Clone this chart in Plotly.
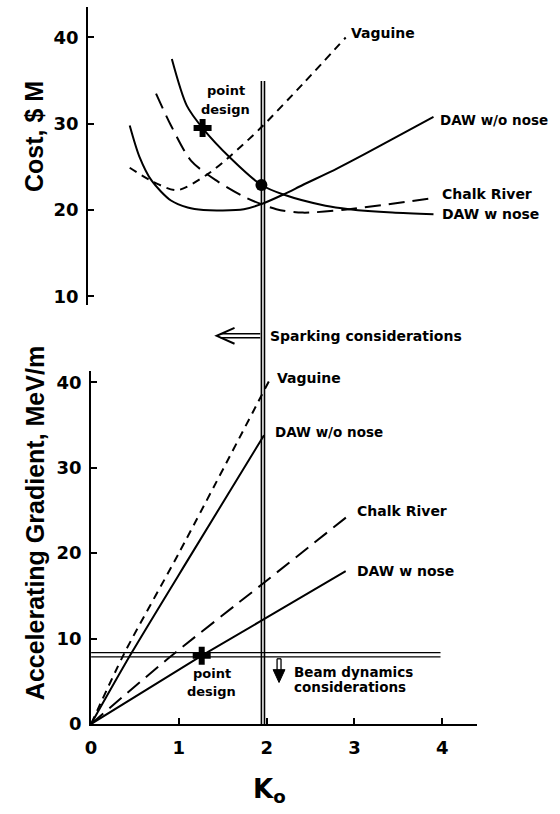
import plotly.graph_objects as go

W, H = 560, 814

# ---------------- data: cost panel (top) ----------------
cost_daw_wo_k = [0.44, 0.55, 0.69, 0.91, 1.10, 1.28, 1.50, 1.74, 1.93, 2.19, 2.41, 2.80, 3.12, 3.50, 3.90]
cost_daw_wo = [29.8, 26.2, 23.4, 21.1, 20.3, 20.0, 19.95, 20.1, 20.65, 21.8, 22.9, 24.8, 26.5, 28.6, 30.8]

cost_daw_w_k = [0.92, 1.09, 1.27, 1.59, 1.94, 2.19, 2.67, 2.94, 3.43, 3.90]
cost_daw_w = [37.5, 32.1, 29.5, 26.0, 22.9, 21.8, 20.5, 20.1, 19.7, 19.5]

cost_vag_k = [0.44, 0.72, 0.98, 1.32, 1.59, 1.93, 2.41, 2.90]
cost_vag = [24.9, 23.2, 22.3, 24.1, 26.3, 29.5, 34.6, 40.0]

cost_chalk_k = [0.74, 0.91, 1.14, 1.43, 1.77, 2.11, 2.41, 2.94, 3.90]
cost_chalk = [33.5, 29.8, 25.7, 23.4, 21.4, 20.1, 19.7, 20.1, 21.4]

cost_point_k, cost_point = [1.27], [29.5]
cost_opt_k, cost_opt = [1.94], [22.9]

# ---------------- data: gradient panel (bottom) ----------------
grad_vag_k = [0.0, 0.38, 1.0, 2.03]
grad_vag = [0.0, 8.3, 20.0, 40.2]

grad_daw_wo_k = [0.0, 0.46, 1.15, 1.97]
grad_daw_wo = [0.0, 8.3, 20.0, 33.8]

grad_chalk_k = [0.0, 0.87, 1.94, 2.92]
grad_chalk = [0.0, 7.6, 16.3, 24.3]

grad_daw_w_k = [0.0, 1.26, 1.94, 2.90]
grad_daw_w = [0.0, 8.0, 12.1, 17.9]

grad_point_k, grad_point = [1.26], [8.0]

sparking_k = [1.94, 1.975]          # vertical double line
beam_grad = [7.85, 8.35]            # horizontal double line
beam_k_end = 3.98

x_ticks = [0, 1, 2, 3, 4]
cost_ticks = [10, 20, 30, 40]
grad_ticks = [0, 10, 20, 30, 40]

# ---------------- helpers ----------------
def px(x):
    return x / W

def py(y):
    return (H - y) / H

FONT = "DejaVu Sans"

fig = go.Figure()

def add_line(xs, ys, dash, xa, ya, spline=True):
    fig.add_trace(go.Scatter(
        x=xs, y=ys, mode="lines", xaxis=xa, yaxis=ya,
        line=dict(color="black", width=2, dash=dash,
                  shape="spline" if spline else "linear", smoothing=0.8),
        showlegend=False, hoverinfo="skip"))

# top
add_line(cost_daw_wo_k, cost_daw_wo, "solid", "x2", "y2")
add_line(cost_daw_w_k, cost_daw_w, "solid", "x2", "y2")
add_line(cost_vag_k, cost_vag, "8px,6px", "x2", "y2")
add_line(cost_chalk_k, cost_chalk, "16px,8px", "x2", "y2")
fig.add_trace(go.Scatter(x=cost_point_k, y=cost_point, mode="markers", xaxis="x2", yaxis="y2",
                         marker=dict(symbol="cross", size=15, color="black"), showlegend=False))
fig.add_trace(go.Scatter(x=cost_opt_k, y=cost_opt, mode="markers", xaxis="x2", yaxis="y2",
                         marker=dict(symbol="circle", size=12, color="black"), showlegend=False))

# bottom
add_line(grad_vag_k, grad_vag, "8px,6px", "x", "y")
add_line(grad_daw_wo_k, grad_daw_wo, "solid", "x", "y")
add_line(grad_chalk_k, grad_chalk, "16px,8px", "x", "y")
add_line(grad_daw_w_k, grad_daw_w, "solid", "x", "y", spline=False)
fig.add_trace(go.Scatter(x=grad_point_k, y=grad_point, mode="markers", xaxis="x", yaxis="y",
                         marker=dict(symbol="cross", size=15, color="black"), showlegend=False))

shapes = []
for k in sparking_k:
    shapes.append(dict(type="line", xref="x", yref="paper", x0=k, x1=k,
                       y0=py(733), y1=py(82), line=dict(color="black", width=1.6)))
for g in beam_grad:
    shapes.append(dict(type="line", xref="x", yref="y", x0=0, x1=beam_k_end, y0=g, y1=g,
                       line=dict(color="black", width=1.3)))

# sparking arrow (open, pointing left)
shapes += [
    dict(type="line", xref="paper", yref="paper", x0=px(217), x1=px(257), y0=py(338), y1=py(338),
         line=dict(color="black", width=1.5)),
    dict(type="line", xref="paper", yref="paper", x0=px(217), x1=px(257), y0=py(342), y1=py(342),
         line=dict(color="black", width=1.5)),
    dict(type="path", xref="paper", yref="paper",
         path=f"M {px(231)} {py(332)} L {px(213)} {py(340)} L {px(231)} {py(348)}",
         line=dict(color="black", width=2)),
]
# beam dynamics arrow (pointing down)
shapes += [
    dict(type="line", xref="paper", yref="paper", x0=px(274), x1=px(274), y0=py(667), y1=py(680),
         line=dict(color="black", width=1.3)),
    dict(type="line", xref="paper", yref="paper", x0=px(278), x1=px(278), y0=py(667), y1=py(680),
         line=dict(color="black", width=1.3)),
    dict(type="line", xref="paper", yref="paper", x0=px(274), x1=px(278), y0=py(667), y1=py(667),
         line=dict(color="black", width=1.3)),
    dict(type="path", xref="paper", yref="paper",
         path=f"M {px(270)} {py(678)} L {px(282)} {py(678)} L {px(276)} {py(691)} Z",
         fillcolor="black", line=dict(color="black", width=1)),
]

ann = []
def lab(text, x, y, xref, yref, anchor="left", size=14):
    ann.append(dict(text=text, x=x, y=y, xref=xref, yref=yref, xanchor=anchor, yanchor="middle",
                    showarrow=False, font=dict(family=FONT, size=size, color="black")))

# top labels
lab("<b>Vaguine</b>", 2.94, 40.57, "x2", "y2")
lab("<b>DAW w/o nose</b>", 3.955, 30.4, "x2", "y2", size=13.5)
lab("<b>Chalk River</b>", 3.97, 21.8, "x2", "y2")
lab("<b>DAW w nose</b>", 3.97, 19.5, "x2", "y2")
lab("<b>point</b>", px(222), py(92), "paper", "paper", anchor="center", size=13)
lab("<b>design</b>", px(222), py(111), "paper", "paper", anchor="center", size=13)
# bottom labels
lab("<b>Vaguine</b>", 2.095, 40.5, "x", "y")
lab("<b>DAW w/o nose</b>", 2.07, 34.2, "x", "y", size=13.5)
lab("<b>Chalk River</b>", 3.01, 24.9, "x", "y")
lab("<b>DAW w nose</b>", 3.01, 17.9, "x", "y")
lab("<b>point</b>", px(208), py(682), "paper", "paper", anchor="center", size=13)
lab("<b>design</b>", px(208), py(700), "paper", "paper", anchor="center", size=13)
lab("<b>Sparking considerations</b>", px(265), py(340), "paper", "paper")
lab("<b>Beam dynamics</b>", px(289), py(680), "paper", "paper", size=13.5)
lab("<b>considerations</b>", px(289), py(696), "paper", "paper", size=13.5)
# axis titles
TFONT = "Liberation Sans Narrow, Liberation Sans"
ann.append(dict(text="<b>Cost, $ M</b>", x=px(29), y=py(138), xref="paper", yref="paper",
                textangle=-90, showarrow=False, xanchor="center", yanchor="middle",
                font=dict(family=TFONT, size=25, color="black")))
ann.append(dict(text="<b>Accelerating Gradient, MeV/m</b>", x=px(30), y=py(530), xref="paper", yref="paper",
                textangle=-90, showarrow=False, xanchor="center", yanchor="middle",
                font=dict(family=TFONT, size=25, color="black")))
ann.append(dict(text="<b>K<sub>o</sub></b>", x=px(266), y=py(800), xref="paper", yref="paper",
                showarrow=False, xanchor="center", yanchor="middle",
                font=dict(family=FONT, size=26, color="black")))

tickfont = dict(family=FONT, size=18, color="black")
axis_common = dict(showgrid=False, zeroline=False, showline=True, linecolor="black", linewidth=2,
                   ticks="inside", ticklen=6, tickwidth=1.5, tickcolor="black", tickfont=tickfont)

def bold(vals):
    return [f"<b>{v}</b>" for v in vals]

x0p, upx = 86, 88.75
fig.update_layout(
    width=W, height=H, margin=dict(l=0, r=0, t=0, b=0),
    paper_bgcolor="white", plot_bgcolor="white",
    xaxis=dict(domain=[px(x0p), px(x0p + 4.4 * upx)], range=[0, 4.4], anchor="y",
               tickvals=x_ticks, ticktext=bold(x_ticks), ticklabelstandoff=6, **axis_common),
    yaxis=dict(domain=[py(733), py(733 - 41.3 * 8.65)], range=[0, 41.3], anchor="x",
               tickvals=grad_ticks, ticktext=bold(grad_ticks), ticklabelstandoff=4, **axis_common),
    xaxis2=dict(domain=[px(83), px(83 + 4.4 * upx)], range=[-3 / upx, 4.4 - 3 / upx], anchor="y2",
                visible=False),
    yaxis2=dict(domain=[py(308.7), py(7.4)], range=[9, 43.5],
                anchor="x2", tickvals=cost_ticks, ticktext=bold(cost_ticks), ticklabelstandoff=4,
                **axis_common),
    shapes=shapes, annotations=ann,
)

fig.write_html("out.html", config={"displayModeBar": False},
               post_script="document.body.style.margin='0px';document.body.style.overflow='hidden';")
